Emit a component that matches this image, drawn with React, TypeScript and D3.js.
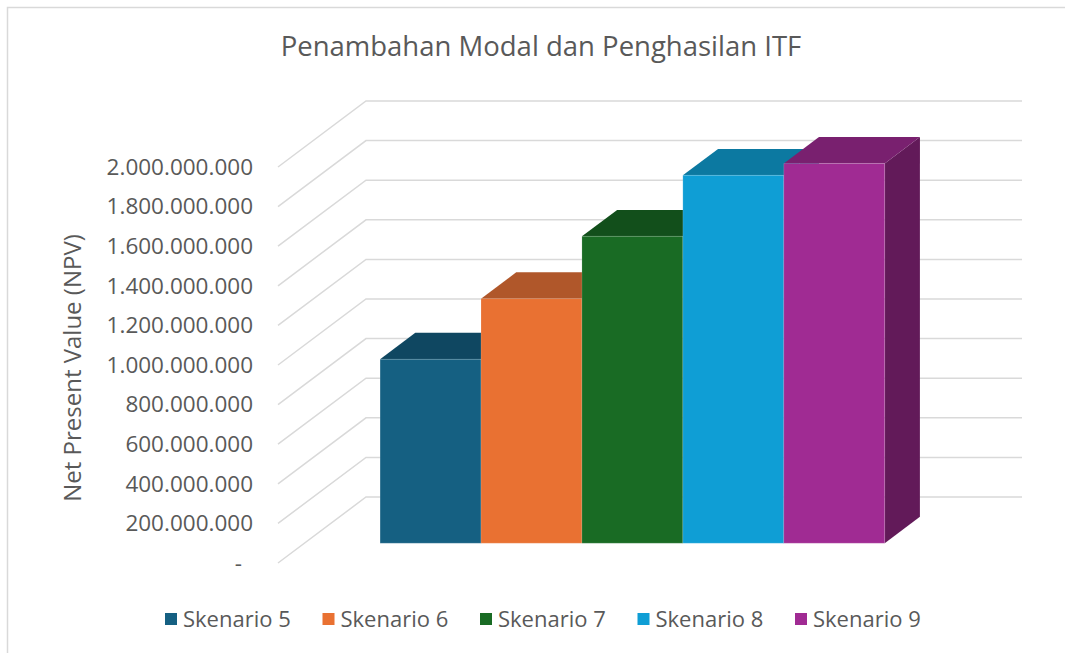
import React from "react";
import * as d3 from "d3";

const categories = ["Skenario 5", "Skenario 6", "Skenario 7", "Skenario 8", "Skenario 9"];
const values = [929000000, 1235000000, 1550000000, 1858000000, 1918000000];
const yTicks = [0, 200000000, 400000000, 600000000, 800000000, 1000000000, 1200000000, 1400000000, 1600000000, 1800000000, 2000000000];
const frontColors = ["#156082", "#e97132", "#196b24", "#0f9ed5", "#a02b93"];
const topColors = ["#0f4761", "#b0572a", "#124f1b", "#0c79a1", "#79206f"];
const sideColors = ["#0c3a50", "#8f4622", "#0d3e15", "#0a6283", "#621a59"];

const W = 1065;
const H = 653;
const DX = 88; // depth offset x (full depth)
const DY = -66; // depth offset y
const TEXT = "#595959";
const GRID = "#d9d9d9";
const FONT = "'Open Sans', sans-serif";

function fmt(v: number) {
  if (v === 0) return "-";
  return d3.format(",")(v).replace(/,/g, ".");
}

export default function App() {
  const y = d3.scaleLinear().domain([0, 2000000000]).range([563, 167]);
  const x = d3.scaleBand<string>().domain(categories).range([278, 934]).paddingInner(0).paddingOuter(0.75);
  const zF = 0.3;
  const zB = 0.7;
  const P = (px: number, v: number, z: number) => [px + z * DX, y(v) + z * DY];
  const poly = (pts: number[][]) => pts.map((p) => p.join(",")).join(" ");
  const backLeft = 278 + DX;
  const backRight = 1022;

  return (
    <svg width={W} height={H} style={{ position: "absolute", left: 0, top: 0, background: "#fff" }} fontFamily={FONT}>
      <rect x={7.5} y={7.5} width={1075} height={665} fill="#fff" stroke={GRID} strokeWidth={1.5} />
      <text x={541} y={56} textAnchor="middle" fontSize={27.5} fill={TEXT}>
        Penambahan Modal dan Penghasilan ITF
      </text>
      {yTicks.map((t) => (
        <g key={t}>
          <polyline
            points={poly([[278, y(t)], [backLeft, y(t) + DY], [backRight, y(t) + DY]])}
            fill="none"
            stroke={GRID}
            strokeWidth={1.5}
          />
          <text
            x={t === 0 ? 242 : 253}
            y={y(t)}
            dy="0.35em"
            textAnchor="end"
            fontSize={22.5}
            fill={TEXT}
          >
            {fmt(t)}
          </text>
        </g>
      ))}
      <text
        transform="translate(81,368) rotate(-90)"
        textAnchor="middle"
        fontSize={24}
        fill={TEXT}
      >
        Net Present Value (NPV)
      </text>
      {categories.map((c, i) => {
        const x0 = x(c)!;
        const x1 = x0 + x.bandwidth();
        const v = values[i];
        const front = [P(x0, 0, zF), P(x1, 0, zF), P(x1, v, zF), P(x0, v, zF)];
        const top = [P(x0, v, zF), P(x1, v, zF), P(x1, v, zB), P(x0, v, zB)];
        const side = [P(x1, 0, zF), P(x1, 0, zB), P(x1, v, zB), P(x1, v, zF)];
        return (
          <g key={c}>
            <polygon points={poly(side)} fill={sideColors[i]} />
            <polygon points={poly(top)} fill={topColors[i]} />
            <polygon points={poly(front)} fill={frontColors[i]} stroke="rgba(255,255,255,0.25)" strokeWidth={0.6} />
          </g>
        );
      })}
      {categories.map((c, i) => {
        const lx = 165 + i * 157.5;
        return (
          <g key={"l" + c}>
            <rect x={lx} y={613} width={12} height={12} fill={frontColors[i]} />
            <text x={lx + 18} y={619} dy="0.35em" fontSize={22} fill={TEXT}>
              {c}
            </text>
          </g>
        );
      })}
    </svg>
  );
}
